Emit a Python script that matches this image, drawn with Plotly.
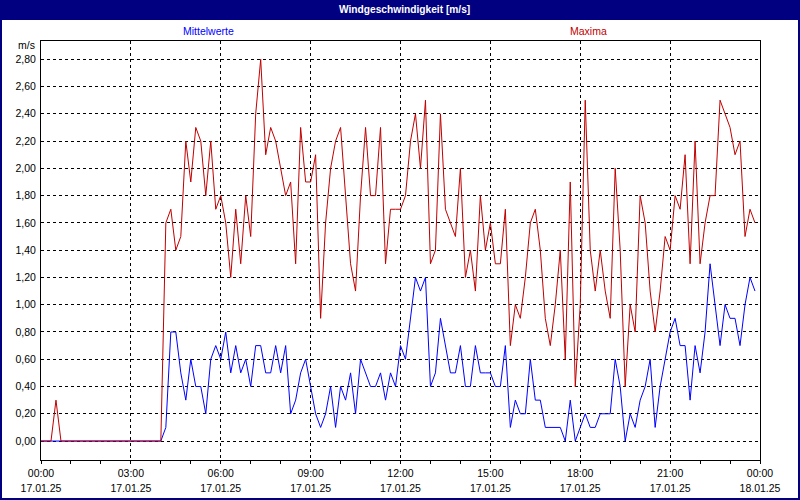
import plotly.graph_objects as go
import pandas as pd

# 10-minute values, 17.01.25 00:00 .. 23:50
times = pd.date_range("2025-01-17 00:00", periods=144, freq="10min")

mittelwerte = [
    0, 0, 0, 0, 0, 0, 0, 0, 0, 0, 0, 0,
    0, 0, 0, 0, 0, 0, 0, 0, 0, 0, 0, 0,
    0, 0.1, 0.8, 0.8, 0.5, 0.3, 0.6, 0.4, 0.4, 0.2, 0.6, 0.7,
    0.6, 0.8, 0.5, 0.7, 0.5, 0.6, 0.4, 0.7, 0.7, 0.5, 0.5, 0.7,
    0.5, 0.7, 0.2, 0.3, 0.5, 0.6, 0.4, 0.2, 0.1, 0.2, 0.4, 0.1,
    0.4, 0.3, 0.5, 0.2, 0.6, 0.5, 0.4, 0.4, 0.5, 0.3, 0.5, 0.4,
    0.7, 0.6, 0.9, 1.2, 1.1, 1.2, 0.4, 0.5, 0.9, 0.7, 0.5, 0.5,
    0.7, 0.4, 0.4, 0.7, 0.5, 0.5, 0.5, 0.4, 0.4, 0.7, 0.1, 0.3,
    0.2, 0.2, 0.6, 0.3, 0.3, 0.1, 0.1, 0.1, 0.1, 0.0, 0.3, 0.0,
    0.1, 0.2, 0.1, 0.1, 0.2, 0.2, 0.2, 0.6, 0.4, 0.0, 0.2, 0.1,
    0.3, 0.4, 0.6, 0.1, 0.4, 0.6, 0.8, 0.9, 0.7, 0.7, 0.3, 0.7,
    0.5, 0.8, 1.3, 1.0, 0.7, 1.0, 0.9, 0.9, 0.7, 1.0, 1.2, 1.1,
]

maxima = [
    0, 0, 0, 0.3, 0, 0, 0, 0, 0, 0, 0, 0,
    0, 0, 0, 0, 0, 0, 0, 0, 0, 0, 0, 0,
    0, 1.6, 1.7, 1.4, 1.5, 2.2, 1.9, 2.3, 2.2, 1.8, 2.2, 1.7,
    1.8, 1.6, 1.2, 1.7, 1.3, 1.8, 1.5, 2.4, 2.8, 2.1, 2.3, 2.2,
    2.0, 1.8, 1.9, 1.3, 2.3, 1.9, 1.9, 2.1, 0.9, 1.6, 2.0, 2.2,
    2.3, 1.8, 1.3, 1.1, 1.8, 2.3, 1.8, 1.8, 2.3, 1.3, 1.7, 1.7,
    1.7, 1.8, 2.2, 2.4, 2.0, 2.5, 1.3, 1.4, 2.4, 1.7, 1.6, 1.5,
    2.0, 1.2, 1.4, 1.1, 1.8, 1.4, 1.6, 1.3, 1.3, 1.7, 0.7, 1.0,
    0.9, 1.2, 1.6, 1.7, 1.4, 0.9, 0.7, 1.0, 1.4, 0.6, 1.9, 0.4,
    1.0, 2.5, 1.4, 1.1, 1.4, 1.1, 0.9, 2.0, 1.4, 0.4, 1.0, 0.8,
    1.8, 1.6, 1.1, 0.8, 1.1, 1.5, 1.4, 1.8, 1.7, 2.1, 1.3, 2.2,
    1.3, 1.6, 1.8, 1.8, 2.5, 2.4, 2.3, 2.1, 2.2, 1.5, 1.7, 1.6,
]

x_tick_vals = list(pd.date_range("2025-01-17 00:00", "2025-01-18 00:00", freq="3h"))
x_tick_time = ["00:00", "03:00", "06:00", "09:00", "12:00", "15:00", "18:00", "21:00", "00:00"]
x_tick_date = ["17.01.25", "17.01.25", "17.01.25", "17.01.25", "17.01.25",
               "17.01.25", "17.01.25", "17.01.25", "18.01.25"]
y_tick_vals = [0.0, 0.2, 0.4, 0.6, 0.8, 1.0, 1.2, 1.4, 1.6, 1.8, 2.0, 2.2, 2.4, 2.6, 2.8]
y_tick_text = ["0,00", "0,20", "0,40", "0,60", "0,80", "1,00", "1,20", "1,40",
               "1,60", "1,80", "2,00", "2,20", "2,40", "2,60", "2,80"]

title_text = "Windgeschwindigkeit [m/s]"
series_names = ["Mittelwerte", "Maxima"]
unit_text = "m/s"

BLUE = "#0000ff"
RED = "#c00000"
NAVY = "#000080"
FONT = "Liberation Sans"

fig = go.Figure()
fig.add_trace(go.Scatter(x=times, y=mittelwerte, mode="lines", name=series_names[0],
                         line=dict(color=BLUE, width=1)))
fig.add_trace(go.Scatter(x=times, y=maxima, mode="lines", name=series_names[1],
                         line=dict(color=RED, width=1)))
# invisible carrier trace so the date-label axis (x2) is drawn
fig.add_trace(go.Scatter(x=times, y=maxima, mode="lines", xaxis="x2", yaxis="y",
                         line=dict(color="rgba(0,0,0,0)", width=0), opacity=0,
                         hoverinfo="skip", showlegend=False))

W, H = 800, 500
L, R, T, B = 41, 40, 41, 40
pw, ph = W - L - R, H - T - B


def px(xp):
    return (xp - L) / pw


def py(yp):
    return (H - B - yp) / ph


x_range = [x_tick_vals[0], x_tick_vals[-1]]

fig.update_layout(
    width=W, height=H,
    margin=dict(l=L, r=R, t=T, b=B, pad=0, autoexpand=False),
    paper_bgcolor="white", plot_bgcolor="white",
    showlegend=False,
    font=dict(family=FONT, size=10.5, color="black"),
    xaxis=dict(
        type="date",
        range=x_range, automargin=False,
        tickmode="array", tickvals=x_tick_vals, ticktext=x_tick_time,
        ticks="outside", ticklen=3, tickcolor="black",
        ticklabelstandoff=0,
        showgrid=True, gridcolor="black", gridwidth=1, griddash="3px,3px",
        showline=True, linecolor="black", linewidth=1, mirror=True,
        zeroline=False,
        minor=dict(tickmode="linear", tick0=x_tick_vals[0], dtick=3600000,
                   ticks="outside", ticklen=3, tickcolor="black", showgrid=False),
        tickfont=dict(family=FONT, size=10.5, color="black"),
    ),
    xaxis2=dict(
        type="date",
        range=x_range, automargin=False,
        matches="x", overlaying="x", side="bottom", anchor="y",
        tickmode="array", tickvals=x_tick_vals, ticktext=x_tick_date,
        ticks="", ticklabelstandoff=20,
        showgrid=False, showline=False, zeroline=False,
        tickfont=dict(family=FONT, size=10.5, color="black"),
    ),
    yaxis=dict(
        range=[-0.139, 2.934], automargin=False,
        tickmode="array", tickvals=y_tick_vals, ticktext=y_tick_text,
        ticks="", ticklabelstandoff=2,
        showgrid=True, gridcolor="black", gridwidth=1, griddash="3px,3px",
        showline=True, linecolor="black", linewidth=1, mirror=True,
        zeroline=False,
        tickfont=dict(family=FONT, size=10.5, color="black"),
    ),
    shapes=[
        dict(type="rect", xref="paper", yref="paper",
             x0=px(0), x1=px(W), y0=py(0), y1=py(20),
             fillcolor=NAVY, line=dict(width=0), layer="above"),
        dict(type="rect", xref="paper", yref="paper",
             x0=px(1), x1=px(W - 1), y0=py(1), y1=py(H - 1),
             fillcolor="rgba(0,0,0,0)", line=dict(color=NAVY, width=2), layer="above"),
    ],
    annotations=[
        dict(text="<b>" + title_text + "</b>", xref="paper", yref="paper",
             x=px(404), y=py(10), showarrow=False, xanchor="center", yanchor="middle",
             font=dict(family=FONT, size=10.2, color="white")),
        dict(text=series_names[0], xref="paper", yref="paper",
             x=px(208), y=py(31), showarrow=False, xanchor="center", yanchor="middle",
             font=dict(family=FONT, size=10.5, color=BLUE)),
        dict(text=series_names[1], xref="paper", yref="paper",
             x=px(588), y=py(31), showarrow=False, xanchor="center", yanchor="middle",
             font=dict(family=FONT, size=10.5, color=RED)),
        dict(text=unit_text, xref="paper", yref="paper",
             x=px(37), y=py(45), showarrow=False, xanchor="right", yanchor="middle",
             font=dict(family=FONT, size=10.5, color="black")),
    ],
)

fig.write_html("out.html", config={"displayModeBar": False},
               post_script="document.body.style.margin='0';")
